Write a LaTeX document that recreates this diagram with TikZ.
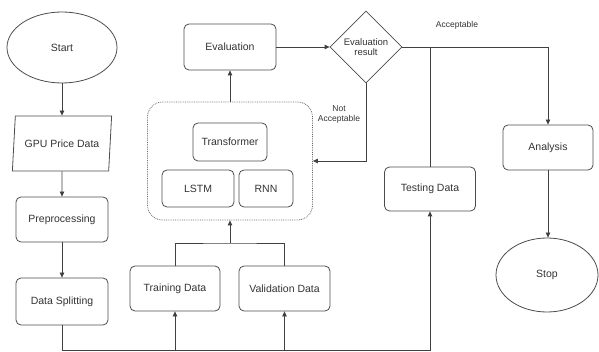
\documentclass[tikz,border=0pt]{standalone}
\usepackage{fontspec}
\setmainfont{Liberation Sans}
\usetikzlibrary{shapes.geometric,arrows.meta}

\begin{document}
\begin{tikzpicture}[x=1pt,y=-1pt,
  every node/.style={text=black!80, font=\fontsize{10.5}{12}\selectfont},
  line/.style={draw=black!75, line width=0.8pt},
  arr/.style={line, -{Triangle[length=5pt,width=4.5pt]}},
  stepbox/.style={draw=black!70, line width=0.8pt, rounded corners=5pt, inner sep=0pt},
  terminal/.style={draw=black!70, line width=0.8pt, ellipse, inner sep=0pt},
  iobox/.style={draw=black!70, line width=0.8pt, trapezium, trapezium left angle=73,
    trapezium right angle=107, trapezium stretches=true, inner sep=0pt},
  decision/.style={draw=black!70, line width=0.8pt, diamond, inner sep=0pt, align=center,
    font=\fontsize{9.5}{10.5}\selectfont},
  group/.style={draw=black!60, line width=0.8pt, densely dotted, rounded corners=15pt},
  edgelabel/.style={font=\fontsize{8.5}{10}\selectfont, align=center}
]
\useasboundingbox (0,0) rectangle (599,352);

% left column
\node[terminal, minimum width=110, minimum height=71] (start) at (62,47.5) {Start};
\node[iobox, minimum width=100, minimum height=55] (gpu) at (62,143.5) {GPU Price Data};
\node[stepbox, minimum width=92, minimum height=45] (prep) at (62,219.5) {Preprocessing};
\node[stepbox, minimum width=92, minimum height=47] (split) at (62,301.5) {Data Splitting};

% data sets
\node[stepbox, minimum width=90, minimum height=45] (train) at (175,288.5) {Training Data};
\node[stepbox, minimum width=91, minimum height=45] (valid) at (284.5,288.5) {Validation Data};
\node[stepbox, minimum width=91, minimum height=44] (test) at (430,189) {Testing Data};

% models
\node[group, minimum width=165, minimum height=118] (models) at (230,161) {};
\node[stepbox, minimum width=74, minimum height=38] (trans) at (230,142) {Transformer};
\node[stepbox, minimum width=72, minimum height=37] (lstm) at (198,188.5) {LSTM};
\node[stepbox, minimum width=54, minimum height=37] (rnn) at (266,188.5) {RNN};

% evaluation and results
\node[stepbox, minimum width=92, minimum height=46] (eval) at (230,47) {Evaluation};
\node[decision, minimum width=72, minimum height=72] (dec) at (366,47) {Evaluation\\result};
\node[stepbox, minimum width=90, minimum height=45] (anal) at (548,147.5) {Analysis};
\node[terminal, minimum width=102, minimum height=74] (stop) at (547,275) {Stop};

\coordinate (busL) at (62,350);
\coordinate (busR) at (430,350);
\coordinate (tj) at (230,243);

% main flow
\draw[arr] (start) -- (gpu);
\draw[arr] (gpu) -- (prep);
\draw[arr] (prep) -- (split);
\draw[arr] (split.south) -- (busL) -- (busR) -- (test.south);
\draw[arr] (train.south |- busL) -- (train.south);
\draw[arr] (valid.south |- busL) -- (valid.south);
\draw[line] (train.north) |- (tj) -| (valid.north);
\draw[arr] (tj) -- (models.south);
\draw[arr] (models.north) -- (eval.south);
\draw[arr] (eval.east) -- (dec.west);
\draw[arr] (dec.south) |- (models.east);
\draw[arr] (dec.east) -| (anal.north);
\draw[line] (test.north) -- (test.north |- dec.east);
\draw[arr] (anal.south) -- (anal.south |- stop.north);

% branch labels
\node[edgelabel] (lblno) at (339,114) {Not\\Acceptable};
\node[edgelabel] (lblyes) at (457,25) {Acceptable};
\end{tikzpicture}
\end{document}
